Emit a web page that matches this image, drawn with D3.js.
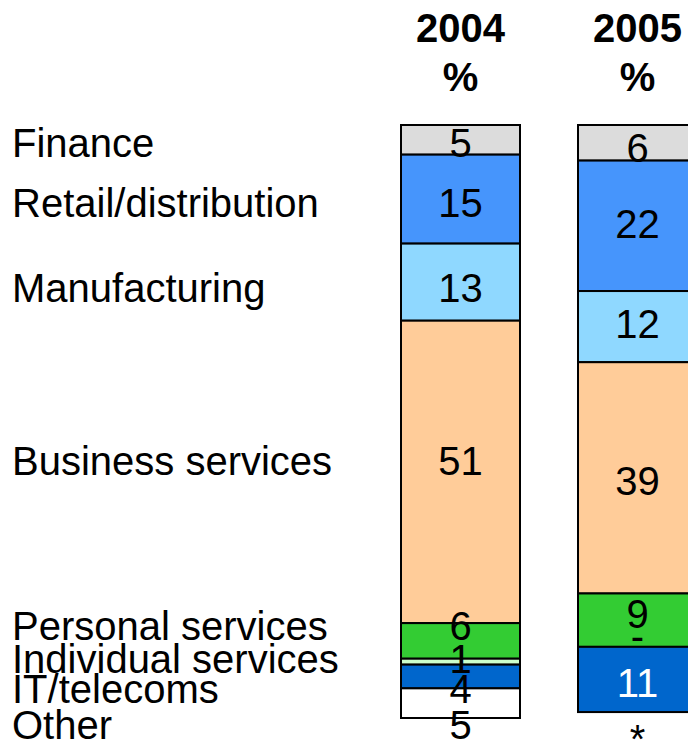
<!DOCTYPE html>
<html lang="en">
<head>
    <meta charset="UTF-8">
    <title>Sector split 2004 / 2005</title>
    <script src="https://d3js.org/d3.v7.min.js"></script>
    <style>
        body { margin: 0; background: #fff; }
        text { font-family: "Liberation Sans", Arial, sans-serif; }
    </style>
</head>
<body>
    <div id="chart"></div>

    <script>
        // data
        const sectors = ["Finance", "Retail/distribution", "Manufacturing", "Business services",
                         "Personal services", "Individual services", "IT/telecoms", "Other"];
        const years = ["2004", "2005"];
        const values2004 = [5, 15, 13, 51, 6, 1, 4, 5];
        const values2005 = [6, 22, 12, 39, 9, 0, 11, 0];
        const labels2004 = ["5", "15", "13", "51", "6", "1", "4", "5"];
        const labels2005 = ["6", "22", "12", "39", "9", "-", "11", "*"];
        const colors = ["#dcdcdc", "#4695fc", "#8fd8ff", "#ffcc99", "#33cc33", "#ccffcc", "#0066cc", "#ffffff"];

        // hand-placed label shifts (px) as in the original slide
        const nudge2004 = [3, 3, 5, -11, -15, -3, 12, 21];
        const nudge2005 = [5, -2, -3, 3, -7, -11, 3, 27];

        const W = 688, H = 743;
        const fs = 40;

        const svg = d3.select("#chart")
          .append("svg")
            .attr("width", W)
            .attr("height", H);

        const x = d3.scaleBand()
            .domain(years)
            .range([401, 697])
            .paddingInner(58 / 177)
            .paddingOuter(0);

        const y = d3.scaleLinear()
            .domain([0, 100])
            .range([125, 718]);

        const series = [values2004, values2005];
        const texts = [labels2004, labels2005];
        const nudges = [nudge2004, nudge2005];

        // build stacked segments
        const segs = [];
        years.forEach((yr, j) => {
            let cum = 0;
            series[j].forEach((v, i) => {
                segs.push({year: yr, i: i, y0: cum, y1: cum + v, label: texts[j][i], nudge: nudges[j][i]});
                cum += v;
            });
        });

        // headers
        const head = svg.append("g");
        years.forEach(yr => {
            head.append("text")
                .attr("x", x(yr) + x.bandwidth() / 2)
                .attr("y", 42)
                .attr("text-anchor", "middle")
                .attr("font-weight", "bold")
                .attr("font-size", fs)
                .text(yr);
            head.append("text")
                .attr("x", x(yr) + x.bandwidth() / 2)
                .attr("y", 91)
                .attr("text-anchor", "middle")
                .attr("font-weight", "bold")
                .attr("font-size", fs)
                .text("%");
        });

        // bars
        svg.selectAll("rect.seg")
            .data(segs.filter(d => d.y1 > d.y0))
            .join("rect")
              .attr("class", "seg")
              .attr("x", d => x(d.year))
              .attr("y", d => y(d.y0))
              .attr("width", x.bandwidth())
              .attr("height", d => y(d.y1) - y(d.y0))
              .attr("fill", d => colors[d.i])
              .attr("stroke", "#000")
              .attr("stroke-width", 2);

        // value labels
        svg.selectAll("text.val")
            .data(segs)
            .join("text")
              .attr("class", "val")
              .attr("x", d => x(d.year) + x.bandwidth() / 2)
              .attr("y", d => y((d.y0 + d.y1) / 2) + fs * 0.36 + d.nudge)
              .attr("text-anchor", "middle")
              .attr("font-size", fs)
              .attr("fill", d => (d.year === "2005" && d.i === 6) ? "#fff" : "#000")
              .text(d => d.label);

        // sector names, lined up with the 2004 labels
        const s2004 = segs.filter(d => d.year === "2004");
        svg.selectAll("text.cat")
            .data(s2004)
            .join("text")
              .attr("class", "cat")
              .attr("x", 12)
              .attr("y", d => y((d.y0 + d.y1) / 2) + fs * 0.36 + d.nudge)
              .attr("font-size", fs)
              .attr("fill", "#000")
              .text(d => sectors[d.i]);
    </script>
</body>
</html>
